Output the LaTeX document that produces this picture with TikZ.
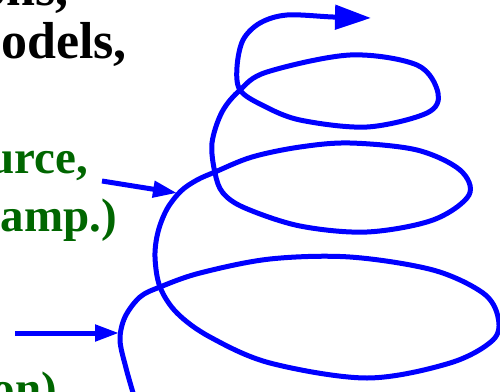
\documentclass[tikz,border=0pt]{standalone}
\usepackage{fontspec}
\setmainfont{Liberation Serif}
\usetikzlibrary{arrows.meta}
\definecolor{txtgreen}{RGB}{0,102,0}
\definecolor{spiralblue}{RGB}{0,0,255}
\begin{document}
\begin{tikzpicture}[x=1pt,y=-1pt,
  blacktxt/.style={anchor=base east,inner sep=0pt,font=\fontsize{52}{52}\selectfont\bfseries,text=black},
  greentxt/.style={anchor=base east,inner sep=0pt,font=\fontsize{47}{47}\selectfont\bfseries,text=txtgreen},
  spiral/.style={draw=spiralblue,line width=5pt,-{Triangle[length=36pt,width=24pt]}},
  pointer/.style={draw=spiralblue,line width=5pt,-{Triangle[length=24pt,width=16pt]}}]
\useasboundingbox (0,0) rectangle (500,391);
\node[blacktxt] (t1) at (69,5) {ons,};
\node[blacktxt] (t2) at (127,58) {models,};
\node[greentxt] (t3) at (88,173) {urce,};
\node[greentxt] (t4) at (117,231) {amp.)};
\node[greentxt] (t5) at (57,404) {on)};
\draw[spiral] plot[smooth,tension=0.55] coordinates {
 (134,396) (126,368) (120,340) (125,317) (140,297) (160,287) (200,273)
 (270,259) (350,257) (433,270) (483,293) (498,317) (493,340) (450,363)
 (367,378) (270,363) (210,337) (177,313) (160,287) (155,257) (158,232)
 (167,209) (181,191) (197,180) (215,172) (252,157) (300,147) (350,143)
 (417,150) (460,170) (469,195) (433,220) (367,232) (300,226) (245,208)
 (223,193) (215,173) (212,143) (222,112) (240,90) (267,72) (350,55)
 (417,65) (438,93) (427,113) (367,127) (300,120) (262,105) (240,90)
 (237,67) (243,40) (260,23) (287,15) (333,17) (371,18)};
\coordinate (a1s) at (102,181);
\coordinate (a1e) at (177,193);
\coordinate (a2s) at (15,333);
\coordinate (a2e) at (119,333);
\draw[pointer] (a1s) -- (a1e);
\draw[pointer] (a2s) -- (a2e);
\end{tikzpicture}
\end{document}
